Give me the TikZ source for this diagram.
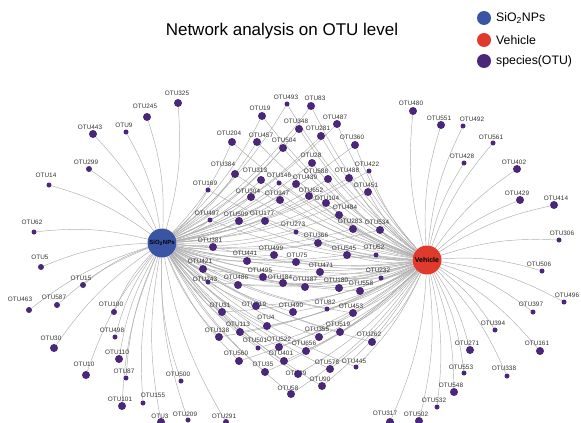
\documentclass[tikz,border=0pt]{standalone}
\usepackage{fontspec}
\setmainfont{Liberation Sans}
\usetikzlibrary{backgrounds}
\definecolor{sioblue}{HTML}{3A55A4}
\definecolor{vehred}{HTML}{DF3A2B}
\definecolor{otupurple}{HTML}{4B2779}
\colorlet{edgegray}{black!32}

% OTU nodes: name/x/y/diameter/label x/label y (pixel grid, y down)
\def\leftset{325/178/103/8/177/93, 245/147/117/8/145/106, 443/93/134/8/90/127,
  9/126/132/5/124/125, 299/89/169/6/86/162, 14/49/185/5/46/175, 62/34/232/5/32/222,
  5/41/267/6/40/257, 15/83/285/6/81/278, 463/29/310/6/20/299, 587/57/305/6/54/297,
  100/114/312/6/111/304, 498/115/337/5/112/330, 30/54/348/8/51/338, 110/119/359/8/117/352,
  10/86/375/8/84/364, 87/126/378/5/124/371, 101/122/406/8/120/399, 155/143/403/5/153/395,
  500/181/381/5/178/374, 3/161/422/8/160/416, 209/188/420/5/185/414, 291/226/422/6/224/416}
\def\rightset{480/413/111/8/411/103, 551/441/125/8/439/118, 492/463/126/5/472/119,
  561/493/143/5/491/137, 428/464/163/5/462/156, 402/517/169/8/514/162, 429/520/200/8/517/193,
  414/554/205/8/556/198, 306/559/240/5/562/233, 506/542/271/5/539/264, 496/564/302/5/567/295,
  397/533/312/5/531/304, 394/495/330/5/493/323, 271/470/350/8/467/343, 161/540/351/8/537/343,
  553/464/373/5/461/367, 338/507/376/5/504/368, 548/454/392/8/451/385, 532/437/407/5/434/400,
  502/419/421/8/416/414, 317/390/422/8/385/413}
\def\bothset{493/287/104/5/286/97, 83/311/106/8/315/98, 19/262/116/8/260/108,
  348/299/129/8/296/121, 487/337/124/8/335/117, 281/321/136/8/318/128, 204/232/142/8/229/133,
  457/257/142/8/261/135, 504/283/148/8/284/140, 360/355/145/8/352/137, 28/312/163/8/311/155,
  384/235/174/8/223/164, 313/261/180/8/255/170, 146/279/183/5/279/175, 422/369/171/5/367/164,
  588/328/179/8/316/171, 488/349/178/8/347/170, 439/296/184/8/305/177, 169/208/190/5/205/183,
  451/368/192/8/366/185, 652/309/196/8/311/190, 304/251/197/8/248/191, 347/280/200/8/277/193,
  104/326/203/8/327/198, 484/339/215/8/345/207, 497/210/220/5/207/213, 509/239/221/8/236/214,
  177/265/221/8/262/213, 273/296/232/5/293/224, 283/353/229/8/350/221, 534/380/230/8/377/222,
  381/213/247/8/210/240, 366/318/243/8/316/235, 499/274/255/8/271/248, 441/247/261/8/245/253,
  545/347/255/8/344/248, 52/376/255/5/374/247, 75/296/262/8/297/255, 421/203/269/8/200/261,
  471/320/272/8/321/265, 495/263/277/8/260/270, 232/381/278/5/378/270, 243/208/282/5/205/279,
  486/238/285/8/236/277, 184/283/283/8/280/277, 187/305/287/8/305/279, 180/339/288/8/336/280,
  558/360/291/8/361/283, 31/222/312/8/220/305, 219/256/306/8/254/304, 490/293/312/8/291/305,
  82/327/309/5/325/302, 453/353/313/8/351/306, 4/267/326/8/266/317, 113/240/332/8/238/324,
  138/219/337/8/217/330, 501/258/348/5/255/340, 522/279/347/8/279/339, 519/340/332/8/338/324,
  355/319/337/8/317/329, 262/372/342/8/369/334, 560/239/361/8/236/353, 401/284/361/8/281/353,
  656/306/351/8/304/343, 35/265/372/8/263/364, 578/330/369/8/327/362, 445/356/367/5/354/361,
  39/298/374/8/296/373, 90/322/386/8/320/379, 58/291/394/8/288/388}

\begin{document}
\begin{tikzpicture}[x=1pt, y=-1pt,
    otu/.style={circle, fill=otupurple, inner sep=0pt},
    hub/.style={circle, inner sep=0pt, minimum size=29pt},
    key/.style={circle, inner sep=0pt, minimum size=14pt},
    lab/.style={font=\fontsize{6.4}{7}\selectfont, text=black!80, inner sep=0pt},
    keylab/.style={font=\fontsize{12.3}{14}\selectfont, anchor=west, inner sep=0pt},
    lnk/.style={draw=edgegray, line width=0.45pt},
  ]
  \useasboundingbox (0,0) rectangle (581,423);

  \node[font=\fontsize{17}{20}\selectfont] (title) at (282,31) {Network analysis on OTU level};

  % legend
  \node[key, fill=sioblue] (k1) at (484,18) {};
  \node[key, fill=vehred] (k2) at (484,40) {};
  \node[key, fill=otupurple] (k3) at (484,61) {};
  \node[keylab] at (496,18) {SiO\textsubscript{2}NPs};
  \node[keylab] at (496,40) {Vehicle};
  \node[keylab] at (496,61) {species(OTU)};

  % OTUs
  \foreach \n/\x/\y/\dm/\lx/\ly in \leftset {
    \node[lab] at (\lx,\ly) {OTU\n};
    \node[otu, minimum size=\dm pt] (o\n) at (\x,\y) {};
  }
  \foreach \n/\x/\y/\dm/\lx/\ly in \rightset {
    \node[lab] at (\lx,\ly) {OTU\n};
    \node[otu, minimum size=\dm pt] (o\n) at (\x,\y) {};
  }
  \foreach \n/\x/\y/\dm/\lx/\ly in \bothset {
    \node[lab] at (\lx,\ly) {OTU\n};
    \node[otu, minimum size=\dm pt] (o\n) at (\x,\y) {};
  }

  % treatments
  \node[hub, fill=sioblue, font=\fontsize{6}{6}\selectfont\bfseries] (sio) at (162,243)
    {SiO\textsubscript{2}NPs};
  \node[hub, fill=vehred, font=\fontsize{7}{7}\selectfont\bfseries] (veh) at (427,260)
    {Vehicle};

  \begin{scope}[on background layer]
    \foreach \n/\x/\y/\dm/\lx/\ly in \leftset
      \draw[lnk] (sio) to[bend right=10] (o\n);
    \foreach \n/\x/\y/\dm/\lx/\ly in \rightset
      \draw[lnk] (o\n) to[bend right=10] (veh);
    \foreach \n/\x/\y/\dm/\lx/\ly in \bothset {
      \draw[lnk] (sio) to[bend right=10] (o\n);
      \draw[lnk] (o\n) to[bend right=10] (veh);
    }
  \end{scope}
\end{tikzpicture}
\end{document}
